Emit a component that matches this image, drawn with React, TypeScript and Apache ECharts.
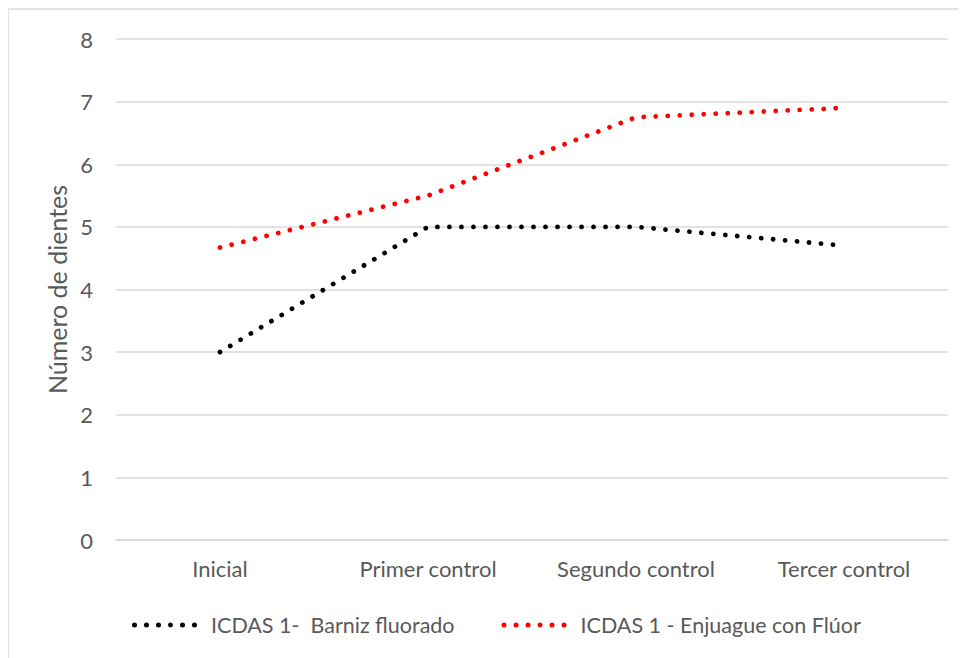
import React, { useEffect, useRef } from "react";
import * as echarts from "echarts";

const categories = ["Inicial", "Primer control", "Segundo control", "Tercer control"];
const barnizValues = [3, 5, 5, 4.7];
const enjuagueValues = [4.67, 5.5, 6.75, 6.9];
const seriesNames = ["ICDAS 1-  Barniz fluorado", "ICDAS 1 - Enjuague con Flúor"];
const yAxisTitle = "Número de dientes";

const dotsIcon =
  "path://" +
  [0, 1, 2, 3, 4, 5]
    .map((k) => {
      const x = 12 * k;
      return `M${x},2.5a2.5,2.5 0 1,0 5,0a2.5,2.5 0 1,0 -5,0Z`;
    })
    .join("");

export default function App() {
  const ref = useRef<HTMLDivElement>(null);
  useEffect(() => {
    if (!ref.current) return;
    const chart = echarts.init(ref.current, undefined, { renderer: "svg" });
    const font = "Lato, 'Open Sans', sans-serif";
    const dotted = (color: string) => ({
      color,
      width: 4.8,
      type: [0.01, 12] as any,
      cap: "round" as any,
    });
    chart.setOption({
      animation: false,
      backgroundColor: "#fff",
      textStyle: { fontFamily: font },
      graphic: [
        {
          type: "rect",
          shape: { x: 0, y: 1, width: 980, height: 680 },
          style: { fill: "none", stroke: "#d9d9d9", lineWidth: 1.5 },
          silent: true,
        },
      ],
      grid: { left: 108, right: 18, top: 31, bottom: 118 },
      xAxis: {
        type: "category",
        data: categories,
        boundaryGap: true,
        axisLine: { show: true, lineStyle: { color: "#d9d9d9", width: 1.5 } },
        axisTick: { show: false },
        axisLabel: { color: "#595959", fontSize: 22, margin: 17, fontFamily: font },
      },
      yAxis: {
        type: "value",
        min: 0,
        max: 8,
        interval: 1,
        name: yAxisTitle,
        nameLocation: "middle",
        nameGap: 47,
        nameRotate: 90,
        nameTextStyle: { color: "#595959", fontSize: 25, fontFamily: font },
        axisLine: { show: false },
        axisTick: { show: false },
        axisLabel: { color: "#595959", fontSize: 22, margin: 23, fontFamily: font },
        splitLine: { lineStyle: { color: "#d9d9d9", width: 1.5 } },
      },
      legend: {
        left: 119,
        top: 601,
        icon: dotsIcon,
        itemWidth: 65,
        itemHeight: 5,
        itemGap: 47,
        textStyle: { color: "#595959", fontSize: 21.5, fontFamily: font, padding: [0, 0, 0, 9] },
        data: seriesNames.map((n) => ({ name: n })),
      },
      series: [
        {
          name: seriesNames[0],
          type: "line",
          data: barnizValues,
          symbol: "none",
          lineStyle: dotted("#000000"),
          itemStyle: { color: "#000000" },
        },
        {
          name: seriesNames[1],
          type: "line",
          data: enjuagueValues,
          symbol: "none",
          lineStyle: dotted("#ff0000"),
          itemStyle: { color: "#ff0000" },
        },
      ],
    });
    return () => chart.dispose();
  }, []);
  return <div ref={ref} style={{ width: 958, height: 650 }} />;
}
